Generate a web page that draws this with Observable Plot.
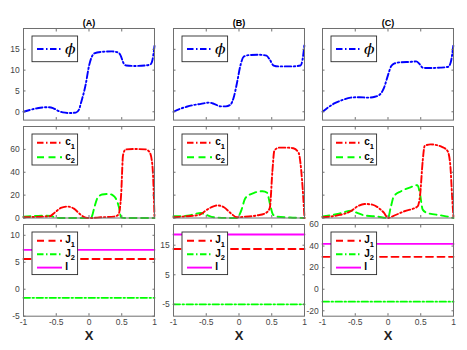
<!DOCTYPE html>
<html><head><meta charset="utf-8">
<script src="https://cdn.jsdelivr.net/npm/d3@7"></script>
<script src="https://cdn.jsdelivr.net/npm/@observablehq/plot@0.6"></script>
<style>
body{margin:0;background:#fff}
#fig{position:relative;width:467px;height:350px;background:#fff;overflow:hidden;font-family:"Liberation Sans",Arial,sans-serif}
#fig > svg{position:absolute;max-width:none}
</style></head><body><div id="fig"></div>
<script>
// ---------------- data ----------------
const panelTitles = ["(A)", "(B)", "(C)"];
const xTicks = [-1, -0.5, 0, 0.5, 1];

// row 1: potential phi
const phiA_x = [-1,-0.9,-0.8,-0.7,-0.62,-0.55,-0.48,-0.4,-0.3,-0.2,-0.15,-0.13,-0.05,0,0.08,0.2,0.35,0.45,0.48,0.53,0.57,0.7,0.85,0.94,0.97,1];
const phiA_y = [0,0.45,0.8,1.05,1.1,0.9,0.3,-0.15,-0.3,-0.2,0.6,1.7,6.6,11,14,14.4,14.5,14.2,13.6,11.6,11.1,11.0,11.1,11.4,12.5,15.8];
const phiB_x = [-1,-0.9,-0.8,-0.7,-0.58,-0.46,-0.38,-0.28,-0.2,-0.13,-0.08,-0.03,0.02,0.07,0.15,0.3,0.42,0.47,0.53,0.6,0.8,0.94,0.97,1];
const phiB_y = [0,0.7,1.2,1.6,1.9,2.2,1.9,1.3,1.3,1.7,3.5,7,11,13.2,13.6,13.7,13.5,12.5,11.1,10.9,10.9,11.1,12.5,16.3];
const phiC_x = [-1,-0.9,-0.82,-0.7,-0.57,-0.44,-0.31,-0.2,-0.12,-0.06,0,0.05,0.1,0.2,0.35,0.43,0.48,0.53,0.6,0.8,0.92,0.96,1];
const phiC_y = [0,1.2,2,2.8,3.4,3.5,3.4,3.6,4.2,5.8,8.8,11,11.6,11.9,12.0,12.1,11.5,10.6,10.5,10.6,10.8,12,16.2];

// row 2: concentrations c1, c2
const c1A_x = [-1,-0.8,-0.6,-0.53,-0.43,-0.33,-0.23,-0.13,-0.05,0.03,0.18,0.38,0.45,0.49,0.52,0.56,0.7,0.86,0.92,0.96,0.98,1];
const c1A_y = [0.6,1.0,1.5,4.4,8.8,10,8.2,3,0.3,0,0.6,1.2,3,20,55,60,60.3,60,58,50,35,0];
const c2A_x = [-1,-0.8,-0.7,-0.58,-0.51,-0.45,0,0.04,0.08,0.13,0.2,0.3,0.36,0.41,0.46,0.49,0.55,1];
const c2A_y = [1.2,1.8,2,1.8,0.3,0,0,1,8.8,17.6,20.5,21,20,17,8.8,0.6,0,0];
const c1B_x = [-1,-0.8,-0.6,-0.51,-0.4,-0.33,-0.23,-0.13,-0.03,0.05,0.28,0.41,0.47,0.51,0.54,0.61,0.75,0.83,0.91,0.96,1];
const c1B_y = [0.6,1.5,2.8,6.4,10,11,9.4,4.4,0.6,0.9,2.3,4.4,8.8,41,59,61.5,61.5,61,57,35,0];
const c2B_x = [-1,-0.79,-0.58,-0.51,-0.38,-0.2,-0.03,0.03,0.1,0.23,0.36,0.43,0.47,0.52,0.58,0.78,1];
const c2B_y = [1.5,2,4.4,3,0.6,0.1,0,5.9,17.6,22,23.4,22,13,3,1.2,0.4,0];
const c1C_x = [-1,-0.77,-0.57,-0.47,-0.36,-0.24,-0.13,-0.06,0,0.07,0.25,0.45,0.49,0.53,0.56,0.65,0.83,0.91,0.95,0.98,1];
const c1C_y = [0.6,2.3,5.9,10,12.3,11.7,8.2,4.4,0,1.5,5.9,10,20,50,63,64.4,62,58.5,47,17.6,0];
const c2C_x = [-1,-0.77,-0.55,-0.47,-0.36,-0.16,0,0.04,0.09,0.2,0.35,0.45,0.49,0.53,0.6,0.81,0.96,1];
const c2C_y = [1.2,3.5,6.4,4.4,2.3,1.2,0,8.8,19,23.4,27,28.7,20.5,7.3,4.4,2.3,0.6,0];

// row 3: fluxes J1, J2 and current I (constant in x)
const fluxX = [-1, 1];
const J1 = [5.6, 13.7, 30];
const J2 = [-1.6, -5, -11.5];
const I = [7.3, 18.6, 42];

// axis set-up per row / column
const phiDomain = [-2, 20], phiTicks = [0, 5, 10, 15];
const cDomain = [0, 80], cTicks = [0, 20, 40, 60];
const fluxDomains = [[-5, 12], [-9, 22], [-25, 60]];
const fluxTicks = [[-5, 0, 5, 10], [-5, 5, 15], [-20, 0, 20, 40, 60]];

// ---------------- layout ----------------
const fig = document.getElementById("fig");
const COLS = [23, 173, 322];
const PW = 131;
const ROWS = [[27.7, 119.3], [125.5, 217], [224, 315.7]];
const FONT = "Liberation Sans, Arial, Helvetica, sans-serif";
const DASHDOT = "6.5,2.5,1.5,2.5";
const DASHED = "7,4.5";
const FRAME = "#6f6f6f";

const pts = (xs, ys) => xs.map((x, i) => ({x, y: ys[i]}));

function panel(col, row, yDomain, yTicks, showYLabels, marks) {
  const [top, bottom] = ROWS[row];
  const ml = 26, mr = 6, mt = row === 0 ? 16 : 4, mb = row === 2 ? 34 : 4;
  const ph = bottom - top;
  const extra = [];
  if (row === 0) extra.push(Plot.text([panelTitles[col]], {text: d => d, frameAnchor: "top", dy: -2.8, lineAnchor: "bottom", fontWeight: "bold", fontSize: 9, fill: "#000"}));
  if (row === 2) extra.push(Plot.text(["X"], {text: d => d, frameAnchor: "bottom", dy: 23.5, lineAnchor: "bottom", fontWeight: "bold", fontSize: 13, fill: "#222"}));
  const svg = Plot.plot({
    width: PW + ml + mr, height: ph + mt + mb,
    marginLeft: ml, marginRight: mr, marginTop: mt, marginBottom: mb,
    style: {background: "transparent", fontFamily: FONT, fontSize: "8.5px", color: "#444", overflow: "visible"},
    x: {domain: [-1, 1]},
    y: {domain: yDomain},
    marks: [
      ...marks,
      Plot.frame({stroke: FRAME, strokeWidth: 1}),
      Plot.axisX({ticks: xTicks, tickSize: -2.5, tickPadding: 5, stroke: FRAME, label: null,
                  tickFormat: row === 2 ? d => String(d) : () => ""}),
      Plot.axisX({anchor: "top", ticks: xTicks, tickSize: -2.5, stroke: FRAME, label: null, tickFormat: () => ""}),
      Plot.axisY({ticks: yTicks, tickSize: -2.5, tickPadding: 6.3, stroke: FRAME, label: null,
                  tickFormat: showYLabels ? d => String(d) : () => ""}),
      Plot.axisY({anchor: "right", ticks: yTicks, tickSize: -2.5, stroke: FRAME, label: null, tickFormat: () => ""}),
      ...extra
    ]
  });
  svg.style.left = (COLS[col] - ml) + "px";
  svg.style.top = (top - mt) + "px";
  fig.append(svg);
}

const lineOpts = (stroke, dash) => ({x: "x", y: "y", stroke, strokeWidth: 1.9, strokeDasharray: dash, curve: "monotone-x"});

const phis = [[phiA_x, phiA_y], [phiB_x, phiB_y], [phiC_x, phiC_y]];
const c1s = [[c1A_x, c1A_y], [c1B_x, c1B_y], [c1C_x, c1C_y]];
const c2s = [[c2A_x, c2A_y], [c2B_x, c2B_y], [c2C_x, c2C_y]];

for (let k = 0; k < 3; k++) {
  panel(k, 0, phiDomain, phiTicks, k === 0, [
    Plot.line(pts(...phis[k]), lineOpts("#0000ff", DASHDOT))
  ]);
  panel(k, 1, cDomain, cTicks, k === 0, [
    Plot.line(pts(...c2s[k]), lineOpts("#00ff00", DASHED)),
    Plot.line(pts(...c1s[k]), lineOpts("#ff0000", DASHDOT))
  ]);
  panel(k, 2, fluxDomains[k], fluxTicks[k], true, [
    Plot.line(pts(fluxX, fluxX.map(() => I[k])), {...lineOpts("#ff00ff", null), curve: "linear"}),
    Plot.line(pts(fluxX, fluxX.map(() => J1[k])), {...lineOpts("#ff0000", DASHED), curve: "linear"}),
    Plot.line(pts(fluxX, fluxX.map(() => J2[k])), {...lineOpts("#00ff00", DASHDOT), curve: "linear"})
  ]);
}

// ---------------- legends ----------------
function legend(col, row, h, entries) {
  const top = ROWS[row][0];
  const svg = d3.create("svg").attr("width", 60).attr("height", h + 4)
    .style("left", (COLS[col] + 7.7) + "px").style("top", (top + 7) + "px")
    .style("position", "absolute").style("overflow", "visible");
  svg.append("rect").attr("x", 1).attr("y", 1).attr("width", 45.6).attr("height", h)
    .attr("fill", "#fff").attr("stroke", "#2a2a2a").attr("stroke-width", 0.9);
  for (const e of entries) {
    svg.append("line").attr("x1", 6).attr("x2", 31).attr("y1", e.y).attr("y2", e.y)
      .attr("stroke", e.color).attr("stroke-width", 1.9).attr("stroke-dasharray", e.dash);
    const t = svg.append("text").attr("x", e.tx ?? 34.3).attr("y", e.y + (e.ty ?? 2.5))
      .attr("font-family", e.font ?? FONT).attr("font-weight", e.weight ?? "bold")
      .attr("font-size", e.size ?? 10).attr("font-style", e.style ?? "normal").attr("fill", "#000");
    t.append("tspan").text(e.label);
    if (e.sub) t.append("tspan").attr("dy", 3.5).attr("font-size", 7.5).text(e.sub);
  }
  fig.append(svg.node());
}

for (let k = 0; k < 3; k++) {
  legend(k, 0, 25.7, [{y: 14, color: "#0000ff", dash: DASHDOT, label: "ϕ", sub: null, font: "DejaVu Serif, Liberation Serif, serif", weight: "normal", style: "italic", size: 15.5, ty: 5, tx: 34}]);
  legend(k, 1, 31, [
    {y: 9.8, color: "#ff0000", dash: DASHDOT, label: "c", sub: "1"},
    {y: 24.2, color: "#00ff00", dash: DASHED, label: "c", sub: "2"}
  ]);
  legend(k, 2, 42.6, [
    {y: 9.7, color: "#ff0000", dash: DASHED, label: "J", sub: "1"},
    {y: 23.2, color: "#00ff00", dash: DASHDOT, label: "J", sub: "2"},
    {y: 36.6, color: "#ff00ff", dash: null, label: "I", sub: null}
  ]);
}
</script></body></html>
